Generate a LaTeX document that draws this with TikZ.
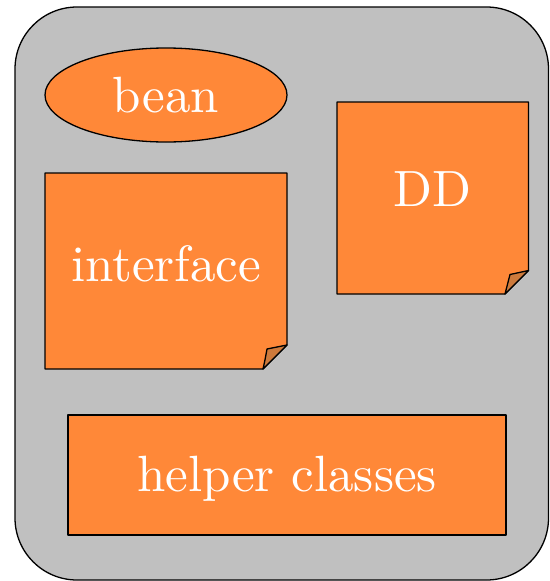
\documentclass[tikz,border=0pt]{standalone}
\usepackage{fontspec}
\setmainfont{lmroman10-regular.otf}
\usetikzlibrary{shapes.geometric}
\definecolor{bggray}{HTML}{C0C0C0}
\definecolor{boxorange}{HTML}{FF8838}
\definecolor{flaporange}{HTML}{CD7A3C}
\tikzset{
  outline/.style={draw=black, line width=1.3pt, line join=round},
  part/.style={outline, fill=boxorange},
  flap/.style={outline, fill=flaporange},
  label/.style={text=white, font=\fontsize{51}{60}\selectfont, inner sep=0pt},
}
\begin{document}
\begin{tikzpicture}[x=1pt,y=-1pt]
\useasboundingbox (0,0) rectangle (549,581);
% outer container
\draw[outline, fill=bggray, rounded corners=62pt] (15,7) rectangle (548.5,580);
% bean
\node[part, ellipse, minimum width=242pt, minimum height=94pt, inner sep=0pt] (bean) at (166,95) {};
\node[label] (beant) at (166,95) {bean};
% interface note
\draw[part] (45,173) -- (287,173) -- (287,345) -- (263,369) -- (45,369) -- cycle;
\draw[flap] (263,369) .. controls (265,360) .. (267,349) .. controls (277,347) .. (287,345) -- cycle;
\node[label] (iface) at (166,264) {interface};
% DD note
\draw[part] (337,102) -- (528.5,102) -- (528.5,270.5) -- (505,294) -- (337,294) -- cycle;
\draw[flap] (505,294) .. controls (507,284) .. (510,274.5) .. controls (519,272.5) .. (528.5,270.5) -- cycle;
\node[label] (dd) at (432,189) {DD};
% helper classes
\node[part, rectangle, minimum width=438pt, minimum height=120pt, inner sep=0pt] (helper) at (287,475) {};
\node[label] (helpert) at (287,479) {helper classes};
\end{tikzpicture}
\end{document}
